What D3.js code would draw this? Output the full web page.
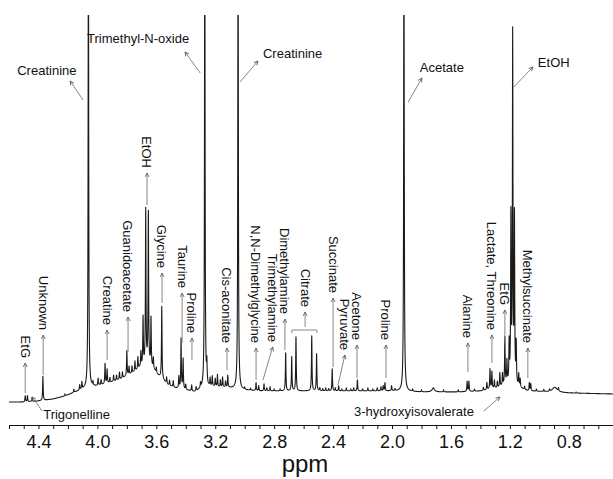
<!DOCTYPE html>
<html>
<head>
<meta charset="utf-8">
<script src="https://cdn.jsdelivr.net/npm/d3@7"></script>
<style>
  body { margin: 0; background: #fff; }
  text { font-family: Arial, "Liberation Sans", Helvetica, sans-serif; fill: #111; }
</style>
</head>
<body>
<svg id="chart"></svg>
<script>
// ---- data (ppm, intensity in arbitrary units) ----
const baselinePpm = [4.60, 4.50, 4.40, 4.30, 4.22, 4.15, 4.09, 4.00, 3.92, 3.84, 3.76, 3.70, 3.66, 3.62, 3.59, 3.56, 3.52, 3.47, 3.40, 3.34, 3.29, 3.22, 3.10, 3.02, 2.90, 2.60, 2.30, 2.00, 1.80, 1.55, 1.40, 1.28, 1.22, 1.14, 1.08, 0.95, 0.80, 0.50];
const baselineLevel = [3, 3, 4, 6, 9, 13, 16, 19, 22, 26, 32, 38, 40, 36, 30, 26, 20, 17, 15, 13, 16, 18, 17, 15, 14, 14, 14, 14, 13, 13, 14, 17, 20, 17, 14, 13, 12, 11];

// sharp resonances: [ppm, height above baseline]
const peaks = [
  [4.490, 6], [4.475, 6], [4.443, 4], [4.370, 24], [4.220, 2], [4.160, 3], [4.120, 5], [4.105, 7],
  [4.061, 500], [4.030, 4], [3.995, 7], [3.975, 5], [3.948, 20], [3.934, 14], [3.915, 5], [3.890, 6],
  [3.870, 5], [3.850, 7], [3.830, 6], [3.800, 25], [3.785, 8], [3.765, 7], [3.745, 10], [3.725, 12],
  [3.705, 15], [3.690, 48], [3.672, 155], [3.654, 152], [3.636, 48], [3.620, 10], [3.600, 5],
  [3.563, 72], [3.530, 6], [3.510, 5], [3.485, 6], [3.447, 12], [3.432, 50], [3.418, 30], [3.400, 5],
  [3.360, 6], [3.330, 4], [3.300, 5], [3.271, 500], [3.257, 20], [3.235, 8], [3.220, 10], [3.200, 8],
  [3.185, 12], [3.165, 7], [3.150, 10], [3.130, 6], [3.115, 12], [3.045, 500], [3.000, 2], [2.960, 2],
  [2.923, 8], [2.905, 5], [2.869, 7], [2.850, 3], [2.828, 4], [2.800, 2], [2.760, 2], [2.722, 38],
  [2.681, 34], [2.652, 54], [2.545, 55], [2.512, 37], [2.490, 3], [2.470, 2], [2.450, 3], [2.430, 2],
  [2.406, 22], [2.385, 3], [2.362, 5], [2.340, 2], [2.310, 3], [2.280, 2], [2.260, 3], [2.235, 11],
  [2.200, 2], [2.164, 3], [2.130, 2], [2.100, 3], [2.075, 4], [2.060, 5], [2.048, 8], [2.003, 5],
  [1.980, 2], [1.919, 500], [1.860, 2], [1.800, 2], [1.650, 2], [1.550, 2], [1.490, 10], [1.478, 10],
  [1.440, 2], [1.380, 3], [1.356, 7], [1.335, 20], [1.322, 17], [1.305, 8], [1.285, 6], [1.268, 14],
  [1.250, 12], [1.234, 47], [1.220, 22], [1.205, 40], [1.193, 165], [1.181, 348], [1.169, 165],
  [1.157, 40], [1.140, 12], [1.130, 8], [1.100, 3], [1.068, 8], [1.058, 7], [1.020, 2], [0.970, 2],
  [0.930, 2], [0.870, 3], [0.750, 1]
];
// broad humps: [ppm, height, half width]
const broadPeaks = [[1.72, 4, 0.01], [0.895, 5, 0.02]];

const tickValues = [4.6, 4.5, 4.4, 4.3, 4.2, 4.1, 4.0, 3.9, 3.8, 3.7, 3.6, 3.5, 3.4, 3.3, 3.2, 3.1, 3.0, 2.9, 2.8, 2.7, 2.6, 2.5, 2.4, 2.3, 2.2, 2.1, 2.0, 1.9, 1.8, 1.7, 1.6, 1.5, 1.4, 1.3, 1.2, 1.1, 1.0, 0.9, 0.8, 0.7, 0.6, 0.5];
const tickLabels = [4.4, 4.0, 3.6, 3.2, 2.8, 2.4, 2.0, 1.6, 1.2, 0.8];

// rotated labels: [name, ppm, arrow from, arrow to, ppm of arrow foot]
const verticalLabels = [
  ['EtG', 4.49, 12, 42],
  ['Unknown', 4.368, 30, 70],
  ['Creatine', 3.934, 45, 75],
  ['Guanidoacetate', 3.792, 53, 88],
  ['EtOH', 3.663, 200, 232],
  ['Glycine', 3.561, 102, 132],
  ['Taurine', 3.425, 62, 112],
  ['Proline', 3.358, 45, 67],
  ['Cis-aconitate', 3.12, 35, 57],
  ['N,N-Dimethylglycine', 2.923, 25, 57],
  ['Trimethylamine', 2.81, 25, 58, 2.876],
  ['Dimethylamine', 2.727, 55, 86],
  ['Citrate', 2.59, 78, 93],
  ['Succinate', 2.40, 38, 107],
  ['Pyruvate', 2.32, 20, 50, 2.367],
  ['Acetone', 2.238, 27, 60],
  ['Proline', 2.041, 27, 60],
  ['Alanine', 1.485, 33, 62],
  ['Lactate, Threonine', 1.322, 42, 70],
  ['EtG', 1.234, 62, 95],
  ['Methylsuccinate', 1.078, 27, 57]
];
// horizontal labels: [name, text ppm, text level, anchor, arrow from (ppm, level), arrow to (ppm, level)]
const horizontalLabels = [
  ['Creatinine', 4.544, 330, 'start', [4.097, 305], [4.185, 324]],
  ['Trimethyl-N-oxide', 4.07, 362, 'start', [3.302, 332], [3.405, 353]],
  ['Creatinine', 2.876, 347, 'start', [3.032, 323], [2.91, 344]],
  ['Acetate', 1.811, 333, 'start', [1.89, 303], [1.797, 327]],
  ['EtOH', 1.01, 338, 'start', [1.173, 318], [1.044, 338]],
  ['Trigonelline', 4.368, -14, 'start', [4.375, -6], [4.443, 8]],
  ['3-hydroxyisovalerate', 1.444, -11, 'end', [1.377, -6], [1.268, 8]]
];
const citrateBracket = [2.68, 2.51, 75];

// ---- layout ----
const width = 613;
const height = 479;
const plot = { left: 9, right: 613, top: 15, axisY: 425, baseY: 405 };

const svg = d3.select('#chart').attr('width', width).attr('height', height);

const xScale = d3.scaleLinear().domain([4.6, 0.5]).range([plot.left, plot.right]);
const yScale = d3.scaleLinear().domain([0, 390]).range([plot.baseY, plot.top]);

// Baseline is piecewise linear between the read-off knots
const baseline = d3.scaleLinear().domain(baselinePpm).range(baselineLevel).clamp(true);

// Sum of Lorentzian lines on top of the baseline
const lw = 0.0022;
const spectrum = d3.range(4.6, 0.4995, -0.0005).map((p) => {
  let v = baseline(p);
  for (const [c, h] of peaks) {
    const d = p - c;
    v += (h * lw * lw) / (lw * lw + d * d);
  }
  for (const [c, h, w] of broadPeaks) {
    const d = p - c;
    v += (h * w * w) / (w * w + d * d);
  }
  return [p, v];
});

const defs = svg.append('defs');
defs.append('clipPath').attr('id', 'clip')
  .append('rect')
  .attr('x', plot.left).attr('y', plot.top)
  .attr('width', plot.right - plot.left).attr('height', plot.axisY - plot.top);

defs.append('marker')
  .attr('id', 'head')
  .attr('viewBox', '0 0 10 10')
  .attr('refX', 9).attr('refY', 5)
  .attr('markerWidth', 5).attr('markerHeight', 5)
  .attr('markerUnits', 'userSpaceOnUse')
  .attr('orient', 'auto')
  .append('path')
  .attr('d', 'M1,1L9,5L1,9')
  .attr('fill', 'none')
  .attr('stroke', '#555')
  .attr('stroke-width', 1.6);

// spectrum line
const line = d3.line().x((d) => xScale(d[0])).y((d) => yScale(d[1]));
svg.append('path')
  .datum(spectrum)
  .attr('clip-path', 'url(#clip)')
  .attr('fill', 'none')
  .attr('stroke', '#1a1a1a')
  .attr('stroke-width', 1.1)
  .attr('stroke-linejoin', 'round')
  .attr('d', line);

// x axis
const isLabel = (d) => tickLabels.some((t) => Math.abs(t - d) < 1e-6);
const xAxis = d3.axisBottom(xScale)
  .tickValues(tickValues)
  .tickSize(4)
  .tickSizeOuter(0)
  .tickPadding(6)
  .tickFormat((d) => (isLabel(d) ? d3.format('.1f')(d) : ''));

const ax = svg.append('g')
  .attr('transform', `translate(0,${plot.axisY})`)
  .call(xAxis);
ax.select('.domain').attr('stroke', '#111');
ax.selectAll('.tick line').attr('stroke', '#111');
ax.selectAll('.tick text')
  .attr('font-size', 18)
  .attr('font-family', 'Arial, "Liberation Sans", Helvetica, sans-serif')
  .attr('fill', '#111');

svg.append('text')
  .attr('x', 305)
  .attr('y', 472)
  .attr('text-anchor', 'middle')
  .attr('font-size', 24)
  .text('ppm');

// annotations
const notes = svg.append('g').attr('font-size', 13);

verticalLabels.forEach(([name, ppm, from, to, footPpm]) => {
  const x = xScale(ppm);
  const xf = xScale(footPpm ?? ppm);
  notes.append('line')
    .attr('x1', xf).attr('y1', yScale(from))
    .attr('x2', x).attr('y2', yScale(to))
    .attr('stroke', '#777')
    .attr('stroke-width', 0.9)
    .attr('marker-end', 'url(#head)');
  notes.append('text')
    .attr('transform', `translate(${x},${yScale(to) - 5}) rotate(90)`)
    .attr('text-anchor', 'end')
    .attr('dy', '0.35em')
    .text(name);
});

horizontalLabels.forEach(([name, ppm, level, anchor, from, to]) => {
  notes.append('line')
    .attr('x1', xScale(from[0])).attr('y1', yScale(from[1]))
    .attr('x2', xScale(to[0])).attr('y2', yScale(to[1]))
    .attr('stroke', '#777')
    .attr('stroke-width', 0.9)
    .attr('marker-end', 'url(#head)');
  notes.append('text')
    .attr('x', xScale(ppm))
    .attr('y', yScale(level))
    .attr('text-anchor', anchor)
    .text(name);
});

// bracket over the citrate doublets
const [bL, bR, bLevel] = citrateBracket;
notes.append('path')
  .attr('d', `M${xScale(bL)},${yScale(bLevel) + 3}V${yScale(bLevel)}H${xScale(bR)}V${yScale(bLevel) + 3}`)
  .attr('fill', 'none')
  .attr('stroke', '#777')
  .attr('stroke-width', 0.9);
</script>
</body>
</html>
